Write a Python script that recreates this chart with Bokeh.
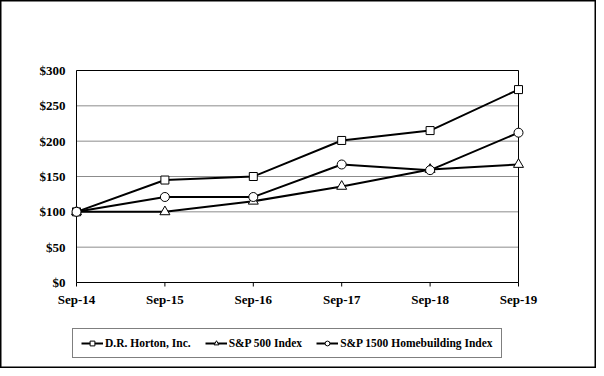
import math
from bokeh.plotting import figure
from bokeh.models import Legend, LegendItem, Range1d
from bokeh.core.properties import value
from bokeh.embed import file_html
from bokeh.resources import INLINE

categories = ["Sep-14", "Sep-15", "Sep-16", "Sep-17", "Sep-18", "Sep-19"]
horton = [100, 145, 150, 201, 215, 273]
sp500 = [100, 100, 115, 136, 160, 167]
homebuilding = [100, 121, 121, 167, 159, 212]
y_ticks = [0, 50, 100, 150, 200, 250, 300]
y_labels = ["$0", "$50", "$100", "$150", "$200", "$250", "$300"]

x = list(range(len(categories)))
n = len(categories) - 1
FONT = "Liberation Serif"

# layout in pixels
W, H = 596, 368
BOX_L, BOX_R, BOX_T, BOX_B = 76, 518, 70, 282
pxx = (BOX_R - BOX_L) / n
pxy = (BOX_B - BOX_T) / (y_ticks[-1] - y_ticks[0])

p = figure(width=W, height=H, output_backend="svg", toolbar_location=None,
           x_range=Range1d(-BOX_L / pxx, n + (W - BOX_R) / pxx),
           y_range=Range1d(y_ticks[0] - (H - BOX_B) / pxy, y_ticks[-1] + BOX_T / pxy),
           min_border=0, x_axis_location=None, y_axis_location=None)
p.outline_line_color = "black"
p.outline_line_width = 2
p.xgrid.visible = False
p.ygrid.visible = False

# grid and plot-area box
p.segment(x0=[0] * len(y_ticks), x1=[n] * len(y_ticks), y0=y_ticks, y1=y_ticks,
          line_color="#8c8c8c", line_width=1)
p.quad(left=[0], right=[n], bottom=[y_ticks[0]], top=[y_ticks[-1]],
       fill_color=None, line_color="black", line_width=1)

# x ticks and labels
p.ray(x=x, y=[y_ticks[0]] * len(x), length=4, length_units="screen",
      angle=-math.pi / 2, line_color="black", line_width=1)
p.text(x=x, y=[y_ticks[0]] * len(x), text=categories, y_offset=17,
       text_align="center", text_baseline="middle",
       text_font=value(FONT), text_font_style="bold", text_font_size="13px",
       text_color="black")
# y labels
p.text(x=[0] * len(y_ticks), y=y_ticks, text=y_labels, x_offset=-11,
       text_align="right", text_baseline="middle",
       text_font=value(FONT), text_font_style="bold", text_font_size="13px",
       text_color="black")

items = []
for name, vals, marker, size in [("D.R. Horton, Inc.", horton, "square", 8),
                                 ("S&P 500 Index", sp500, "triangle", 10),
                                 ("S&P 1500 Homebuilding Index", homebuilding, "circle", 9)]:
    l = p.line(x, vals, line_color="black", line_width=2)
    s = p.scatter(x, vals, marker=marker, size=size, fill_color="white",
                  line_color="black", line_width=1)
    items.append(LegendItem(label=name, renderers=[l, s]))

legend = Legend(items=items, orientation="horizontal", location=(72, H - 358))
legend.label_text_font = FONT
legend.label_text_font_style = "bold"
legend.label_text_font_size = "11.5px"
legend.label_text_color = "black"
legend.border_line_color = "black"
legend.border_line_width = 1
legend.background_fill_alpha = 1
legend.glyph_width = 22
legend.glyph_height = 12
legend.label_standoff = 2
legend.spacing = 14
legend.padding = 8
legend.margin = 0
p.add_layout(legend, "center")

open("out.html", "w").write(file_html(p, INLINE))
